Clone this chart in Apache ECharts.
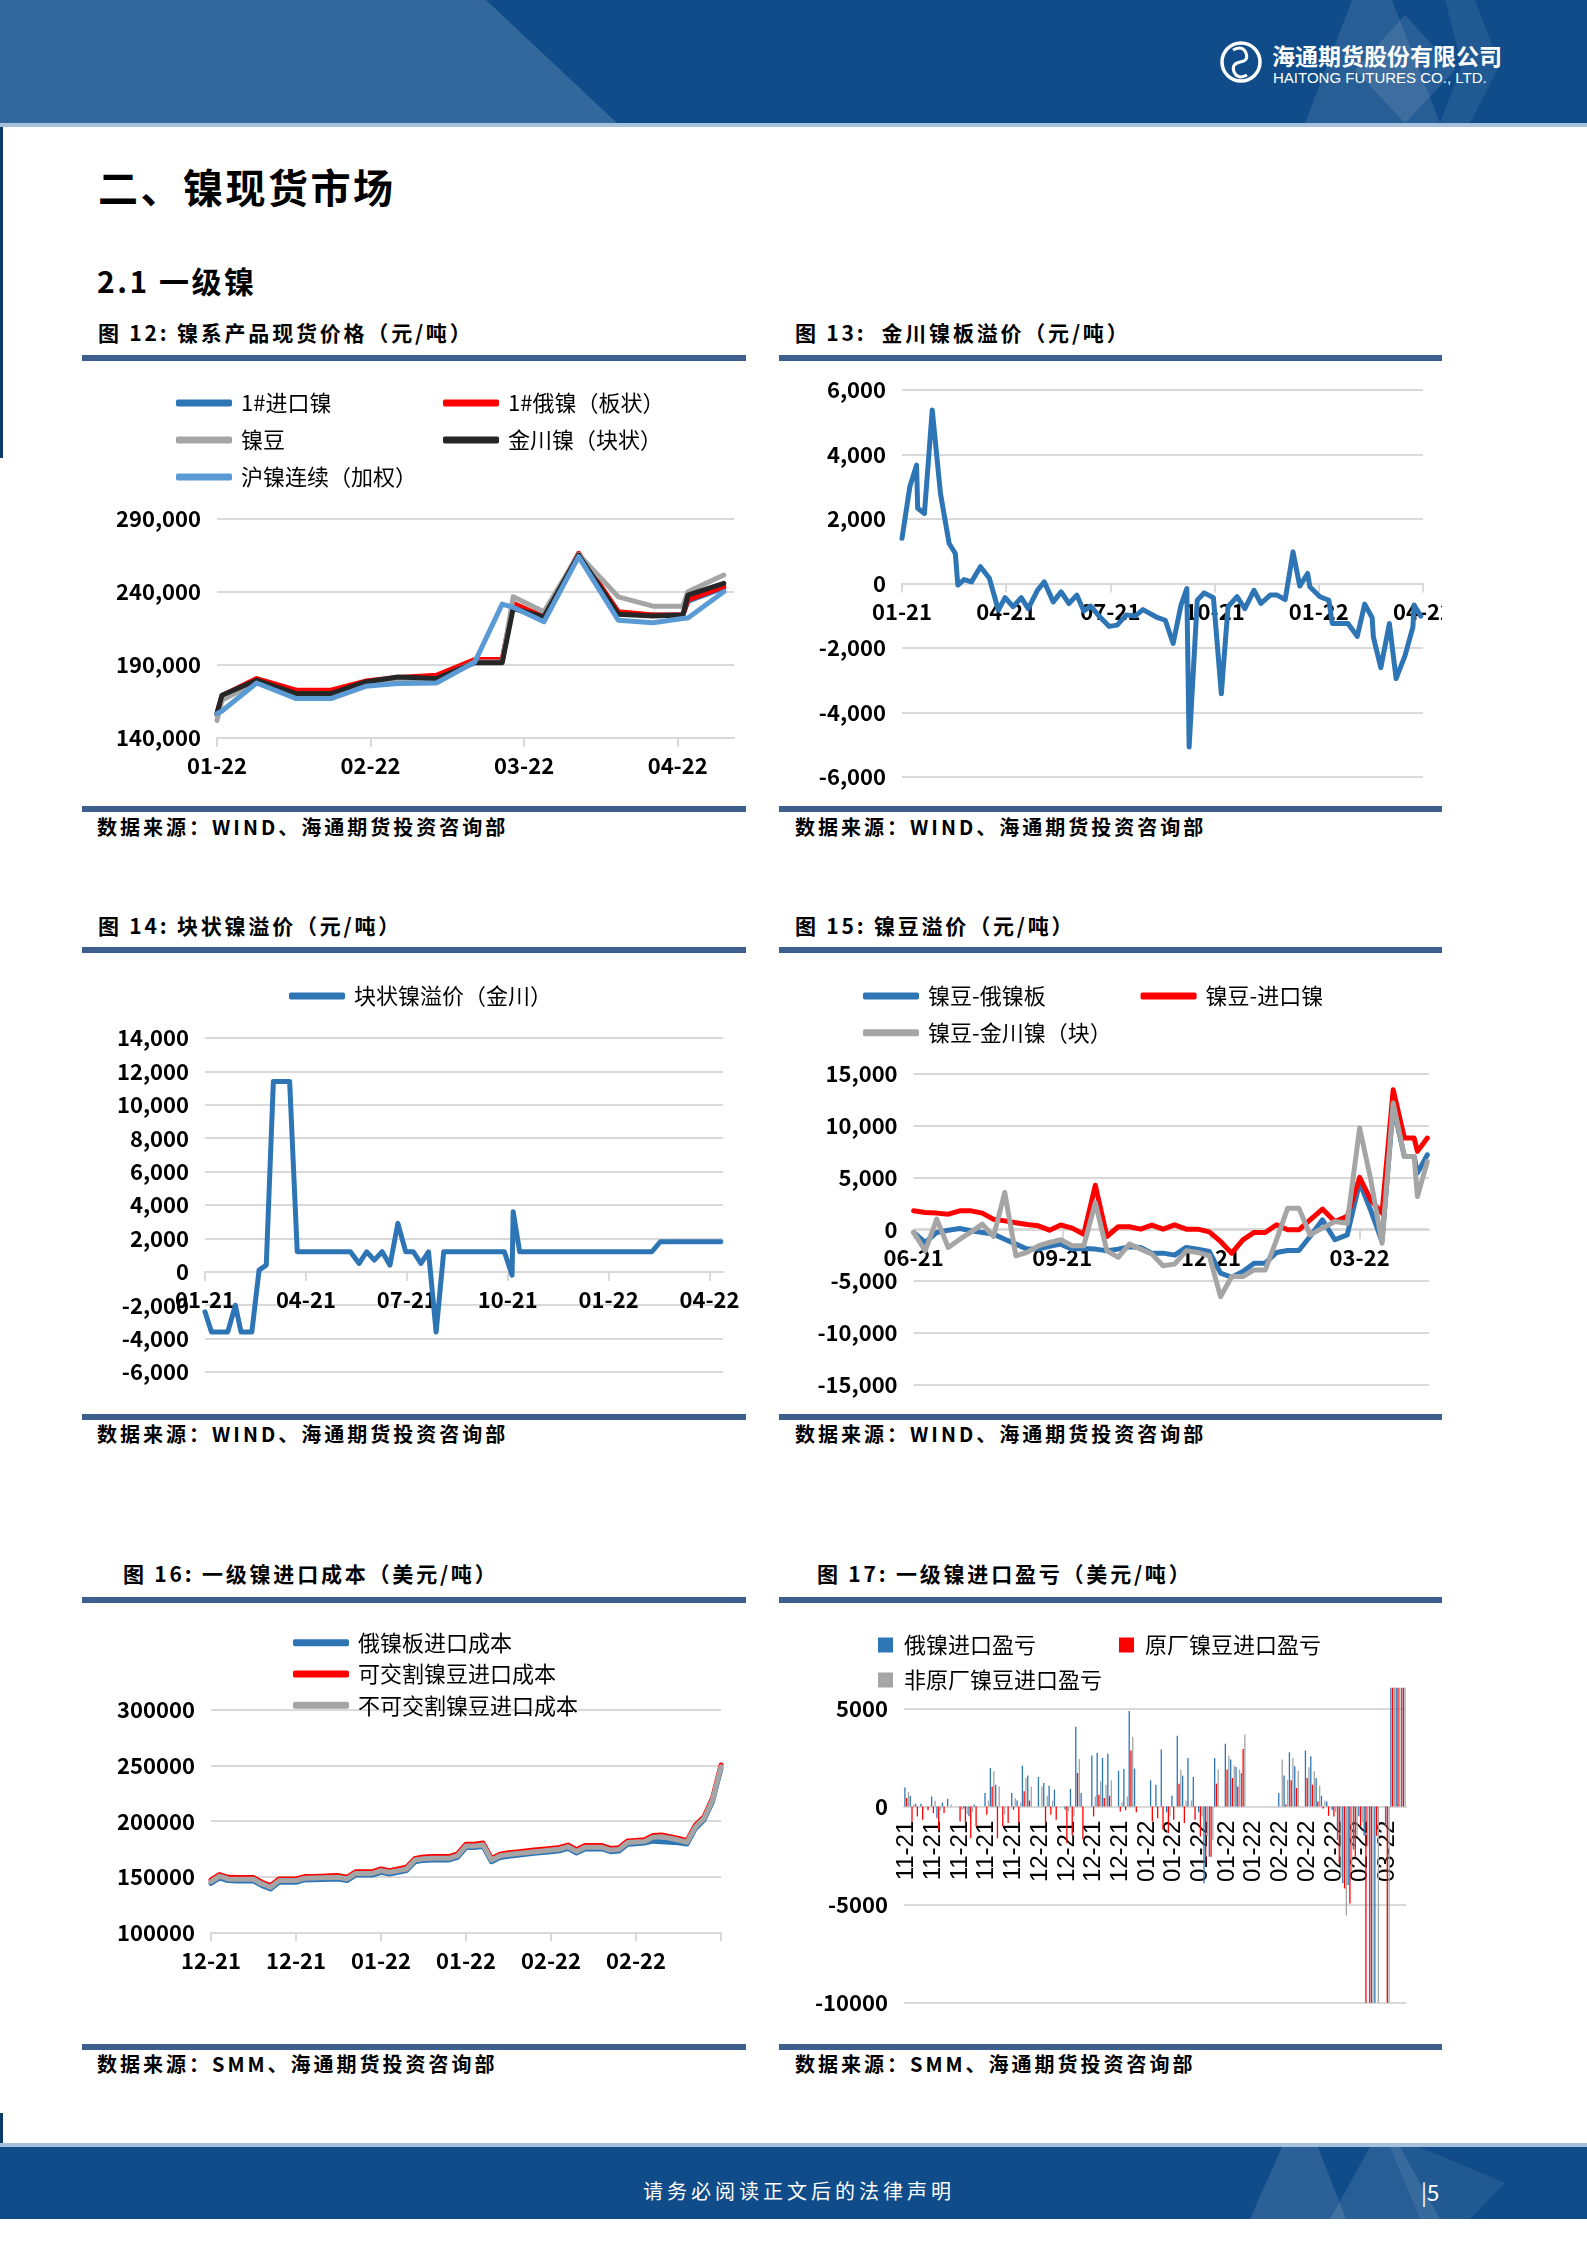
<!DOCTYPE html>
<html><head><meta charset="utf-8">
<script src="https://cdn.jsdelivr.net/npm/echarts@6/dist/echarts.min.js"></script>
<style>
html,body{margin:0;padding:0;background:#fff;overflow:hidden;}
#page{position:relative;width:1587px;height:2245px;overflow:hidden;background:#fff;font-family:"Noto Sans CJK SC","Noto Sans",sans-serif;}
.t{position:absolute;white-space:nowrap;color:#000;line-height:1;}
.rule{position:absolute;background:#3C5F8D;height:6px;}
.ch{position:absolute;}
.bar{position:absolute;background:#0B3A6B;width:3px;left:0;}
.ttl{font-size:21px;font-weight:bold;letter-spacing:2.8px;}
.src{font-size:20px;font-weight:bold;letter-spacing:3px;}
</style></head>
<body><div id="page">
<svg style="position:absolute;left:0;top:0" width="1587" height="130">
 <rect x="0" y="0" width="1587" height="123" fill="#0F4C89"/>
 <polygon points="0,0 486,0 617,123 0,123" fill="#33689D"/>
 <polygon points="1352,0 1392,0 1440,123 1305,123" fill="#ffffff" fill-opacity="0.10"/>
 <polygon points="1405,15 1455,70 1405,123 1355,70" fill="#ffffff" fill-opacity="0.10"/>
 <polygon points="1445,0 1475,0 1500,65 1470,123 1440,123 1462,65" fill="#ffffff" fill-opacity="0.08"/>
 <rect x="0" y="123" width="1587" height="4" fill="#A7C0DC"/>
 <circle cx="1241" cy="62" r="19" fill="none" stroke="#ffffff" stroke-width="3.5"/>
 <path d="M1233,50 q10,-5 13,3 q3,8 -6,9 q-9,2 -6,10 q4,8 13,3" fill="none" stroke="#ffffff" stroke-width="3"/>
</svg>
<div class="bar" style="top:127px;height:331px"></div>
<div class="t" style="left:1272px;top:44px;font-size:23px;font-weight:bold;color:#fff;">海通期货股份有限公司</div>
<div class="t" style="left:1273px;top:70px;font-size:15px;color:#fff;font-family:'Liberation Sans',Arial,sans-serif;">HAITONG FUTURES CO., LTD.</div>

<div class="t" style="left:98px;top:166px;font-size:40px;font-weight:600;letter-spacing:2.5px;">二、镍现货市场</div>
<div class="t" style="left:97px;top:265px;font-size:30px;font-weight:600;letter-spacing:2.5px;">2.1 一级镍</div>

<div class="t ttl" style="left:98px;top:322px;">图 12: 镍系产品现货价格（元/吨）</div>
<div class="t ttl" style="left:795px;top:322px;">图 13:&nbsp; 金川镍板溢价（元/吨）</div>
<div class="rule" style="left:82px;top:355px;width:664px;"></div>
<div class="rule" style="left:779px;top:355px;width:663px;"></div>
<div class="ch" id="c12" style="left:82px;top:361px;width:664px;height:445px;"></div>
<div class="ch" id="c13" style="left:779px;top:361px;width:663px;height:445px;"></div>
<div class="rule" style="left:82px;top:806px;width:664px;"></div>
<div class="rule" style="left:779px;top:806px;width:663px;"></div>
<div class="t src" style="left:97px;top:817px;">数据来源：WIND、海通期货投资咨询部</div>
<div class="t src" style="left:795px;top:817px;">数据来源：WIND、海通期货投资咨询部</div>

<div class="t ttl" style="left:98px;top:915px;">图 14: 块状镍溢价（元/吨）</div>
<div class="t ttl" style="left:795px;top:915px;">图 15: 镍豆溢价（元/吨）</div>
<div class="rule" style="left:82px;top:947px;width:664px;"></div>
<div class="rule" style="left:779px;top:947px;width:663px;"></div>
<div class="ch" id="c14" style="left:82px;top:953px;width:664px;height:461px;"></div>
<div class="ch" id="c15" style="left:779px;top:953px;width:663px;height:461px;"></div>
<div class="rule" style="left:82px;top:1414px;width:664px;"></div>
<div class="rule" style="left:779px;top:1414px;width:663px;"></div>
<div class="t src" style="left:97px;top:1424px;">数据来源：WIND、海通期货投资咨询部</div>
<div class="t src" style="left:795px;top:1424px;">数据来源：WIND、海通期货投资咨询部</div>

<div class="t ttl" style="left:123px;top:1563px;">图 16: 一级镍进口成本（美元/吨）</div>
<div class="t ttl" style="left:817px;top:1563px;">图 17: 一级镍进口盈亏（美元/吨）</div>
<div class="rule" style="left:82px;top:1597px;width:664px;"></div>
<div class="rule" style="left:779px;top:1597px;width:663px;"></div>
<div class="ch" id="c16" style="left:82px;top:1603px;width:664px;height:441px;"></div>
<div class="ch" id="c17" style="left:779px;top:1603px;width:663px;height:441px;"></div>
<div class="rule" style="left:82px;top:2044px;width:664px;"></div>
<div class="rule" style="left:779px;top:2044px;width:663px;"></div>
<div class="t src" style="left:97px;top:2054px;">数据来源：SMM、海通期货投资咨询部</div>
<div class="t src" style="left:795px;top:2054px;">数据来源：SMM、海通期货投资咨询部</div>

<div class="bar" style="top:2113px;height:30px"></div>
<svg style="position:absolute;left:0;top:2140px" width="1587" height="85">
 <rect x="0" y="3" width="1587" height="4" fill="#A7C0DC"/>
 <rect x="0" y="7" width="1587" height="72" fill="#0F4C89"/>
 <polygon points="1282,7 1318,7 1346,79 1250,79" fill="#ffffff" fill-opacity="0.12"/>
 <polygon points="1370,7 1400,7 1440,79 1330,79" fill="#ffffff" fill-opacity="0.10"/>
 <polygon points="1390,7 1420,7 1505,43 1470,79 1420,79" fill="#ffffff" fill-opacity="0.08"/>
</svg>
<div class="t" style="left:643px;top:2181px;font-size:20px;letter-spacing:4px;color:#fff;">请务必阅读正文后的法律声明</div>
<div class="t" style="left:1421px;top:2180px;font-size:22px;color:#fff;">|5</div>
</div>

<script>
// ---------- DATA ----------
// Fig 12 (weekly, 2022)
const dates12 = ['2022-01-01','2022-01-02','2022-01-09','2022-01-17','2022-01-24','2022-01-31','2022-02-06','2022-02-13','2022-02-20','2022-02-25','2022-02-27','2022-03-05','2022-03-12','2022-03-20','2022-03-27','2022-04-02','2022-04-03','2022-04-10'];
const imp12   = [156000,168000,179800,171800,171800,178200,180700,182200,192900,192900,231400,222200,265700,225700,224200,224200,233700,242800];
const rus12   = [156700,169000,180700,172700,172700,179000,181500,183000,193700,193700,232200,223000,266500,226500,224200,224200,234500,243600];
const bean12  = [152000,165800,178400,169700,169700,177300,180000,180000,192000,192000,236700,226500,265800,236700,230300,230300,240200,251600];
const jc12    = [157000,169300,179600,170400,170400,178400,181800,180700,191500,191500,228700,223000,265300,224800,223500,224200,237900,245900];
const shfe12  = [156700,158500,177700,167000,167000,175400,177300,177700,192000,231700,229500,219600,264200,220700,219000,221900,222200,240200];
const ticks12 = ['01-22','02-22','03-22','04-22'];

// Fig 13
const dates13 = ['2021-01-01','2021-01-08','2021-01-14','2021-01-15','2021-01-21','2021-01-22','2021-01-28','2021-02-04','2021-02-11','2021-02-16','2021-02-18','2021-02-23','2021-03-01','2021-03-09','2021-03-17','2021-03-25','2021-03-31','2021-04-07','2021-04-14','2021-04-20','2021-04-28','2021-05-04','2021-05-12','2021-05-19','2021-05-26','2021-06-02','2021-06-08','2021-06-14','2021-06-22','2021-06-30','2021-07-07','2021-07-15','2021-07-23','2021-07-30','2021-08-11','2021-08-19','2021-08-26','2021-09-02','2021-09-07','2021-09-09','2021-09-16','2021-09-22','2021-09-30','2021-10-07','2021-10-13','2021-10-21','2021-10-28','2021-11-05','2021-11-11','2021-11-19','2021-11-25','2021-12-02','2021-12-09','2021-12-15','2021-12-22','2021-12-24','2022-01-02','2022-01-10','2022-01-13','2022-01-27','2022-02-04','2022-02-10','2022-02-16','2022-02-17','2022-02-23','2022-03-02','2022-03-08','2022-03-16','2022-03-23','2022-03-24','2022-03-30'];
const vals13 = [1400,3000,3670,2330,2170,2170,5380,2790,1240,930,-50,120,50,520,160,-830,-440,-720,-440,-780,-210,50,-570,-260,-620,-360,-850,-700,-1040,-1330,-1290,-980,-1010,-810,-1040,-1140,-1860,-670,-160,-5070,-520,-290,-440,-3420,-720,-410,-780,-210,-620,-360,-360,-500,980,-80,310,-100,-410,-520,-1240,-1240,-1640,-640,-1060,-1660,-2610,-1240,-2950,-2230,-1350,-670,-1010];
const ticks13 = ['01-21','04-21','07-21','10-21','01-22','04-22'];

// Fig 14
const dates14 = ['2021-01-01','2021-01-07','2021-01-22','2021-01-29','2021-02-03','2021-02-12','2021-02-18','2021-02-24','2021-03-02','2021-03-17','2021-03-24','2021-05-11','2021-05-19','2021-05-26','2021-06-02','2021-06-09','2021-06-16','2021-06-23','2021-06-30','2021-07-07','2021-07-14','2021-07-21','2021-07-28','2021-08-04','2021-09-28','2021-10-05','2021-10-06','2021-10-12','2022-02-09','2022-02-16','2022-04-11'];
const vals14 = [-2400,-3600,-3600,-2000,-3600,-3600,100,400,11400,11400,1200,1200,500,1200,700,1200,400,2900,1200,1200,500,1200,-3600,1200,1200,-200,3600,1200,1200,1800,1800];
const ticks14 = ['01-21','04-21','07-21','10-21','01-22','04-22'];

// Fig 15
const dates15 = ['2021-06-01','2021-06-08','2021-06-15','2021-06-22','2021-06-29','2021-07-06','2021-07-13','2021-07-20','2021-07-27','2021-08-03','2021-08-10','2021-08-17','2021-08-24','2021-08-31','2021-09-07','2021-09-14','2021-09-21','2021-09-28','2021-10-05','2021-10-12','2021-10-19','2021-10-26','2021-11-02','2021-11-09','2021-11-16','2021-11-23','2021-11-30','2021-12-07','2021-12-14','2021-12-21','2021-12-28','2022-01-04','2022-01-11','2022-01-18','2022-01-25','2022-02-01','2022-02-08','2022-02-15','2022-02-22','2022-03-01','2022-03-08','2022-03-15','2022-03-22','2022-03-29','2022-04-04','2022-04-06','2022-04-12'];
const rusSpread15 = [-320,-1290,-320,-100,60,-160,-320,-480,-970,-1450,-1930,-1930,-1670,-1450,-1930,-1870,-1930,-2090,-1930,-1700,-1770,-2320,-2320,-2510,-1770,-1930,-2160,-4260,-4650,-4100,-3290,-3290,-2260,-2070,-2070,-710,900,-1030,-550,4500,1800,-1190,11870,7030,7030,5420,7190];
const impSpread15 = [1770,1610,1550,1450,1770,1770,1550,950,800,620,450,320,-100,400,100,-500,4240,-710,230,230,0,390,0,420,0,0,-260,-1190,-2320,-1030,-320,-320,420,-60,-60,900,1940,740,1230,5000,2800,1550,13480,8810,8810,7520,8810];
const jcSpread15 = [-320,-2090,970,-1770,-970,-260,480,-710,3540,-2570,-2250,-1610,-1290,-1030,-1610,-1610,2570,-2090,-2730,-1450,-1930,-2410,-3540,-3380,-2090,-2250,-2570,-6530,-4580,-4580,-3940,-3940,-1030,2030,2030,-550,100,740,580,9780,4770,-1360,12190,7030,7030,3160,6550];
const ticks15 = ['06-21','09-21','12-21','03-22'];

// Fig 16 (trading days)
const dates16 = ['2021-12-10','2021-12-13','2021-12-14','2021-12-15','2021-12-16','2021-12-17','2021-12-20','2021-12-21','2021-12-22','2021-12-23','2021-12-24','2021-12-27','2021-12-28','2021-12-29','2021-12-30','2021-12-31','2022-01-04','2022-01-05','2022-01-06','2022-01-07','2022-01-10','2022-01-11','2022-01-12','2022-01-13','2022-01-14','2022-01-17','2022-01-18','2022-01-19','2022-01-20','2022-01-21','2022-01-24','2022-01-25','2022-01-26','2022-01-27','2022-01-28','2022-02-07','2022-02-08','2022-02-09','2022-02-10','2022-02-11','2022-02-14','2022-02-15','2022-02-16','2022-02-17','2022-02-18','2022-02-21','2022-02-22','2022-02-23','2022-02-24','2022-02-25','2022-02-28','2022-03-01','2022-03-02','2022-03-03','2022-03-04','2022-03-07','2022-03-08','2022-03-09','2022-03-10','2022-03-11','2022-03-14'];
const rusCost16 = [144100,149000,146500,146200,146200,146200,142000,139000,145000,145000,145000,147100,147300,147500,147800,148000,146500,151500,151500,151500,154000,152500,154000,155500,163500,164700,165100,165100,165100,167500,176200,176200,177300,163500,167300,168500,169300,170100,171000,171700,172500,173300,175500,171300,175000,175000,175000,172500,173100,179200,179700,180300,182000,181500,181000,180500,179500,193500,201000,217500,247500];
const delivCost16 = [147100,152000,149500,149200,149200,149200,145000,142000,148000,148000,148000,150100,150300,150500,150800,151000,149500,154500,154500,154500,157000,155500,157000,158500,166500,167700,168100,168100,168100,170500,179200,179200,180300,166500,170300,171500,172300,173100,174000,174700,175500,176300,178500,174300,178000,178000,178000,175500,176100,182200,182700,183300,187000,187500,186100,184500,182500,196500,204000,220500,250500];
const nonDelivCost16 = [145600,150500,148000,147700,147700,147700,143500,140500,146500,146500,146500,148600,148800,149000,149300,149500,148000,153000,153000,153000,155500,154000,155500,157000,165000,166200,166600,166600,166600,169000,177700,177700,178800,165000,168800,170000,170800,171600,172500,173200,174000,174800,177000,172800,176500,176500,176500,174000,174600,180700,181200,181800,185500,186000,184600,183000,181000,195000,202500,219000,249000];

// Fig 17 (trading days)
const dates17 = ['2021-11-01','2021-11-02','2021-11-03','2021-11-04','2021-11-05','2021-11-08','2021-11-09','2021-11-10','2021-11-11','2021-11-12','2021-11-15','2021-11-16','2021-11-17','2021-11-18','2021-11-19','2021-11-22','2021-11-23','2021-11-24','2021-11-25','2021-11-26','2021-11-29','2021-11-30','2021-12-01','2021-12-02','2021-12-03','2021-12-06','2021-12-07','2021-12-08','2021-12-09','2021-12-10','2021-12-13','2021-12-14','2021-12-15','2021-12-16','2021-12-17','2021-12-20','2021-12-21','2021-12-22','2021-12-23','2021-12-24','2021-12-27','2021-12-28','2021-12-29','2021-12-30','2021-12-31','2022-01-03','2022-01-04','2022-01-05','2022-01-06','2022-01-07','2022-01-10','2022-01-11','2022-01-12','2022-01-13','2022-01-14','2022-01-17','2022-01-18','2022-01-19','2022-01-20','2022-01-21','2022-01-24','2022-01-25','2022-01-26','2022-01-27','2022-01-28','2022-01-31','2022-02-01','2022-02-02','2022-02-03','2022-02-04','2022-02-07','2022-02-08','2022-02-09','2022-02-10','2022-02-11','2022-02-14','2022-02-15','2022-02-16','2022-02-17','2022-02-18','2022-02-21','2022-02-22','2022-02-23','2022-02-24','2022-02-25','2022-02-28','2022-03-01','2022-03-02','2022-03-03','2022-03-04','2022-03-07','2022-03-08','2022-03-09','2022-03-10'];
const rusPL17 = [970,544,136,136,0,510,-600,200,390,0, 0,-100,-500,85,0,680,1960,1100,0,0, 680,300,2080,1570,0,1500,1200,1060,850,0, -170,890,4060,680,0,2590,2730,2470,2680,0, 1820,1910,4860,1930,0,0,1330,1100,2900,-300, 545,3600,1570,2470,1500,-300,-3920,-2560,2470,0, 3200,2390,2010,1700,0,0,0,0,0,0, 680,1570,2760,2050,0,2850,2560,1450,545,255, -200,-1700,-3920,-4000,-2200,-500,-1500,-10000,-10000,0, -1000,6050,6050,6050];
const origPL17 = [425,-767,-510,-680,-200,-340,-1200,-340,0,0, -770,-850,-1620,-1020,0,-430,1020,-1620,-1020,-850, -170,-850,770,300,0,0,-850,-430,-680,0, -1880,-1450,1700,-1670,0,-510,600,425,545,0, -255,-200,2850,-300,0,0,-770,-600,-1190,-1360, -680,1160,-850,0,-680,-1530,-2900,-2560,1160,0, 1880,1450,1020,2930,0,0,0,0,0,0, 0,100,1330,940,0,1450,1110,255,-100,-480, -510,-2900,-4180,-4950,-2560,-1000,-10000,-10000,-1500,0, -10000,6050,6050,6050];
const nonOrigPL17 = [730,85,0,0,0,290,-200,0,100,0, -200,-380,-300,0,0,300,1790,1020,-400,0, 425,200,1450,1020,0,1020,545,290,0,0, -255,-500,2420,0,0,500,1280,1100,1330,0, 200,510,3550,0,0,0,0,0,0,-500, 0,1880,300,300,0,-500,-1500,-1700,1880,0, 2590,2080,1880,3670,0,0,0,0,0,0, 2390,1360,2470,1820,0,2000,1790,1060,300,0, -300,-3580,-5560,-3330,-1500,-800,-2000,-10000,-10000,0, -10000,6050,6050,6050];

// ---------- HELPERS ----------
const FONT = '"Noto Sans CJK SC","Noto Sans",sans-serif';
const AXFS = 22, AXW = 'bold';
const GRIDC = '#D9D9D9';
const BLUE = '#2E75B6', RED = '#FF0000', GRAY = '#A5A5A5', BLACK = '#262626', LBLUE = '#5B9BD5';

function mpos(d, base) {
  const p = d.split('-').map(Number), b = base.split('-').map(Number);
  const dim = new Date(p[0], p[1], 0).getDate();
  return (p[0] - b[0]) * 12 + (p[1] - b[1]) + (p[2] - 1) / dim;
}
const fmtK = v => Number(v).toLocaleString('en-US');
const mmYY = d => d.slice(5, 7) + '-' + d.slice(2, 4);

function valueY(min, max, interval, fmt) {
  return { type: 'value', min, max, interval,
    axisLine: { show: false, onZero: false }, axisTick: { show: false },
    axisLabel: { fontFamily: FONT, fontSize: AXFS, fontWeight: AXW, color: '#000', margin: 16, formatter: fmt },
    splitLine: { lineStyle: { color: GRIDC, width: 2 } } };
}
// offset: negative values lift the axis from the grid bottom up to the zero line
function monthX(max, ticks, labels, offset) {
  return { type: 'value', min: 0, max, position: 'bottom', offset: offset || 0,
    axisLine: { onZero: false, lineStyle: { color: GRIDC, width: 2 } },
    axisTick: { show: true, customValues: ticks, length: 9, lineStyle: { color: GRIDC, width: 2 } },
    axisLabel: { customValues: ticks, fontFamily: FONT, fontSize: AXFS, fontWeight: AXW, color: '#000', margin: 17,
      formatter: v => { const k = ticks.findIndex(t => Math.abs(t - v) < 1e-6); return k >= 0 ? labels[k] : ''; } },
    splitLine: { show: false } };
}
function line(name, dates, base, vals, color, width) {
  return { type: 'line', name, data: dates.map((d, i) => [mpos(d, base), vals[i]]),
    symbol: 'none', lineStyle: { color, width, join: 'round', cap: 'round' }, itemStyle: { color } };
}
function catLine(name, vals, color, width) {
  return { type: 'line', name, data: vals, symbol: 'none',
    lineStyle: { color, width, join: 'round', cap: 'round' }, itemStyle: { color } };
}
function lineLegend(names, left, top, gap) {
  return { data: names, orient: 'vertical', left, top, itemWidth: 56, itemHeight: 7, itemGap: gap,
    icon: 'roundRect', selectedMode: false,
    textStyle: { fontFamily: FONT, fontSize: 22, color: '#000', lineHeight: 22, padding: [0, 0, 0, 4] } };
}
function mk(id, opt) {
  const c = echarts.init(document.getElementById(id), null, { renderer: 'canvas' });
  opt.animation = false;
  c.setOption(opt);
}

// ---------- CHART 12 ----------
mk('c12', {
  grid: { left: 135, right: 12, top: 158, bottom: 68, outerBoundsMode: 'none' },
  legend: [lineLegend(['1#进口镍', '镍豆', '沪镍连续（加权）'], 89, 26, 15),
           lineLegend(['1#俄镍（板状）', '金川镍（块状）'], 356, 26, 15)],
  xAxis: monthX(mpos('2022-04-12', '2022-01'), [0, 1, 2, 3], ticks12, 0),
  yAxis: valueY(140000, 290000, 50000, fmtK),
  series: [
    line('1#进口镍', dates12, '2022-01', imp12, BLUE, 5),
    line('1#俄镍（板状）', dates12, '2022-01', rus12, RED, 5),
    line('镍豆', dates12, '2022-01', bean12, GRAY, 5),
    line('金川镍（块状）', dates12, '2022-01', jc12, BLACK, 5),
    line('沪镍连续（加权）', dates12, '2022-01', shfe12, LBLUE, 5)
  ]
});

// ---------- CHART 13 ----------
mk('c13', {
  grid: { left: 123, right: 19, top: 29, bottom: 29, outerBoundsMode: 'none' },
  xAxis: monthX(mpos('2022-04-01', '2021-01'), [0, 3, 6, 9, 12, 15], ticks13, -193.4),
  yAxis: valueY(-6000, 6000, 2000, fmtK),
  series: [line('金川镍板溢价', dates13, '2021-01', vals13, BLUE, 5)]
});

// ---------- CHART 14 ----------
mk('c14', {
  grid: { left: 123, right: 23, top: 85, bottom: 42, outerBoundsMode: 'none' },
  legend: lineLegend(['块状镍溢价（金川）'], 202, 27, 10),
  xAxis: monthX(mpos('2022-04-13', '2021-01'), [0, 3, 6, 9, 12, 15], ticks14, -100),
  yAxis: valueY(-6000, 14000, 2000, fmtK),
  series: [line('块状镍溢价（金川）', dates14, '2021-01', vals14, BLUE, 5)]
});

// ---------- CHART 15 ----------
mk('c15', {
  grid: { left: 134.6, right: 13, top: 121, bottom: 29.7, outerBoundsMode: 'none' },
  legend: [lineLegend(['镍豆-俄镍板', '镍豆-金川镍（块）'], 79, 27, 14.7),
           lineLegend(['镍豆-进口镍'], 356.6, 27, 14.7)],
  xAxis: monthX(mpos('2022-04-13', '2021-06'), [0, 3, 6, 9], ticks15, -154.3),
  yAxis: valueY(-15000, 15000, 5000, fmtK),
  series: [
    line('镍豆-俄镍板', dates15, '2021-06', rusSpread15, BLUE, 5),
    line('镍豆-进口镍', dates15, '2021-06', impSpread15, RED, 5),
    line('镍豆-金川镍（块）', dates15, '2021-06', jcSpread15, GRAY, 5)
  ]
});

// ---------- CHART 16 ----------
mk('c16', {
  grid: { left: 129, right: 25, top: 107, bottom: 111.7, outerBoundsMode: 'none' },
  legend: lineLegend(['俄镍板进口成本', '可交割镍豆进口成本', '不可交割镍豆进口成本'], 206, 23.7, 9.3),
  xAxis: { type: 'category', data: dates16, boundaryGap: false,
    axisLine: { onZero: false, lineStyle: { color: GRIDC, width: 2 } },
    axisTick: { interval: i => i % 10 === 0, length: 9, lineStyle: { color: GRIDC, width: 2 } },
    axisLabel: { interval: i => i % 10 === 0 && i < 60, formatter: mmYY, fontFamily: FONT, fontSize: AXFS, fontWeight: AXW, color: '#000', margin: 17 } },
  yAxis: valueY(100000, 300000, 50000, v => String(v)),
  series: [
    catLine('俄镍板进口成本', rusCost16, BLUE, 5),
    catLine('可交割镍豆进口成本', delivCost16, RED, 5),
    catLine('不可交割镍豆进口成本', nonDelivCost16, GRAY, 5)
  ]
});

// ---------- CHART 17 ----------
const sqLegend = (names, left) => ({ data: names, orient: 'vertical', left, top: 26, itemWidth: 15, itemHeight: 15,
  itemGap: 13, icon: 'rect', selectedMode: false,
  textStyle: { fontFamily: FONT, fontSize: 22, color: '#000', lineHeight: 22, padding: [0, 0, 0, 6] } });
const bar = (name, vals, color) => ({ type: 'bar', name, data: vals, barWidth: 1.3, barGap: '35%', clip: false, itemStyle: { color } });
mk('c17', {
  grid: { left: 125, right: 36, top: 105.3, bottom: 41.3, outerBoundsMode: 'none' },
  legend: [sqLegend(['俄镍进口盈亏', '非原厂镍豆进口盈亏'], 94), sqLegend(['原厂镍豆进口盈亏'], 335)],
  xAxis: { type: 'category', data: dates17, position: 'bottom', offset: -196,
    axisLine: { onZero: false, lineStyle: { color: GRIDC, width: 2 } },
    axisTick: { interval: 4, length: 8, lineStyle: { color: GRIDC, width: 2 } },
    axisLabel: { interval: 4, rotate: 90, formatter: mmYY, fontFamily: '"Liberation Sans",Arial,sans-serif', fontSize: 24, color: '#000', margin: 14 } },
  yAxis: valueY(-10000, 5000, 5000, v => String(v)),
  series: [bar('俄镍进口盈亏', rusPL17, BLUE), bar('原厂镍豆进口盈亏', origPL17, RED), bar('非原厂镍豆进口盈亏', nonOrigPL17, GRAY)]
});
</script>
</body></html>
